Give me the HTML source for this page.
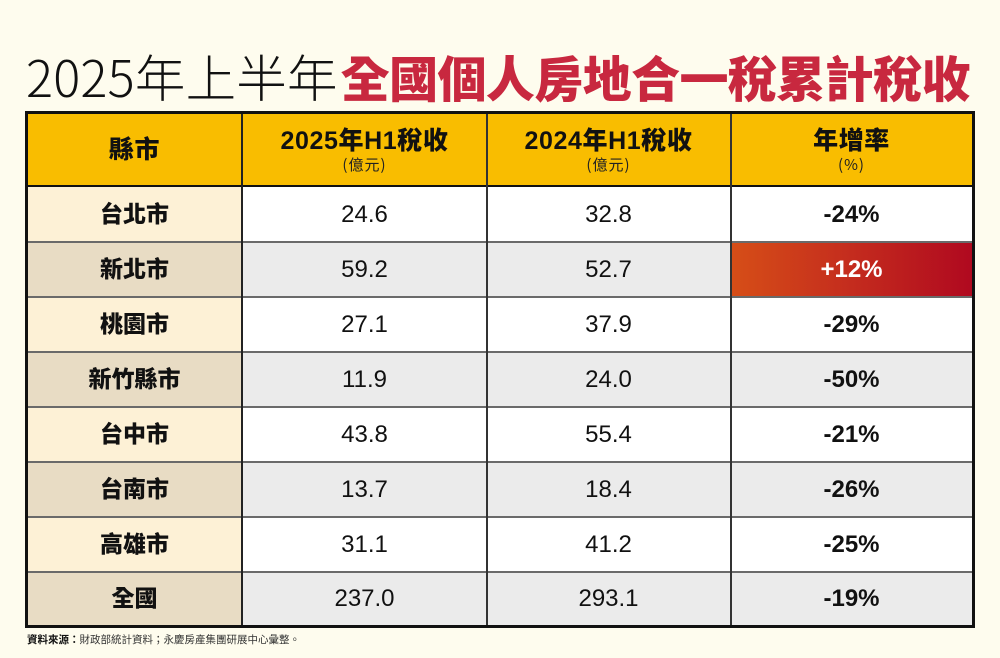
<!DOCTYPE html>
<html><head><meta charset="utf-8">
<style>
html,body{margin:0;padding:0;}
body{width:1000px;height:658px;background:#FEFCEE;position:relative;overflow:hidden;font-family:"Liberation Sans","Noto Sans CJK TC",sans-serif;}
.title{position:absolute;left:26px;top:45px;height:60px;line-height:60px;white-space:nowrap;font-size:49px;}
.title .blk{font-family:"Noto Sans CJK TC","Liberation Sans",sans-serif;font-weight:300;color:#111;font-size:50.5px;letter-spacing:0.2px;}
.title .red{font-family:"Noto Sans CJK TC","Liberation Sans",sans-serif;font-weight:900;color:#C8283F;letter-spacing:-0.6px;margin-left:3px;}
.tbl{position:absolute;left:25px;top:111px;width:950px;height:517px;border:3px solid #111;box-sizing:border-box;}
.c{position:absolute;display:flex;align-items:center;justify-content:center;flex-direction:column;color:#111;}
.hl{position:absolute;left:0;width:944px;height:1.5px;background:#6a6a6a;}
.vl{position:absolute;top:0;width:1.5px;height:511px;background:#333;}
.hd{background:#F9BD00;}
.hm{font-family:"Liberation Sans","Noto Sans CJK TC",sans-serif;font-weight:900;font-size:25px;letter-spacing:0.6px;line-height:28px;}
.hs{font-family:"Noto Sans CJK TC",sans-serif;font-size:15px;line-height:17px;letter-spacing:1px;margin-top:1px;color:#222;}
.nm{font-family:"Liberation Sans","Noto Sans CJK TC",sans-serif;font-weight:900;font-size:23px;}
.nm span{position:relative;top:-3px;}
.v{font-size:24px;}
.p{font-size:24px;font-weight:bold;}
.foot{position:absolute;left:27px;top:632px;font-size:10.5px;color:#333;font-family:"Noto Sans CJK TC","Liberation Sans",sans-serif;white-space:nowrap;}
.foot b{color:#111;}
</style></head><body>
<div class="title"><span class="blk">2025年上半年</span><span class="red">全國個人房地合一稅累計稅收</span></div>

<div class="tbl">
  <!-- header -->
  <div class="c hd" style="left:0;top:0;width:213px;height:71px;"><div class="hm">縣市</div></div>
  <div class="c hd" style="left:215px;top:0;width:243px;height:71px;"><div class="hm">2025年H1稅收</div><div class="hs">(億元)</div></div>
  <div class="c hd" style="left:459px;top:0;width:243px;height:71px;"><div class="hm">2024年H1稅收</div><div class="hs">(億元)</div></div>
  <div class="c hd" style="left:703px;top:0;width:241px;height:71px;"><div class="hm">年增率</div><div class="hs">(%)</div></div>
  <div style="position:absolute;left:0;top:71px;width:944px;height:2px;background:#111;"></div>

  <!-- row 1 -->
  <div class="c nm" style="left:0;top:73px;width:213px;height:55px;background:#FDF1D6;"><span>台北市</span></div>
  <div class="c v" style="left:215px;top:73px;width:243px;height:55px;background:#fff;">24.6</div>
  <div class="c v" style="left:459px;top:73px;width:243px;height:55px;background:#fff;">32.8</div>
  <div class="c p" style="left:703px;top:73px;width:241px;height:55px;background:#fff;">-24%</div>
  <!-- row 2 -->
  <div class="c nm" style="left:0;top:128px;width:213px;height:55px;background:#E8DCC4;"><span>新北市</span></div>
  <div class="c v" style="left:215px;top:128px;width:243px;height:55px;background:#EBEBEB;">59.2</div>
  <div class="c v" style="left:459px;top:128px;width:243px;height:55px;background:#EBEBEB;">52.7</div>
  <div class="c p" style="left:703px;top:128px;width:241px;height:55px;background:linear-gradient(to right,#D64E17,#C42C1E 50%,#B0091F);color:#fff;">+12%</div>
  <!-- row 3 -->
  <div class="c nm" style="left:0;top:183px;width:213px;height:55px;background:#FDF1D6;"><span>桃園市</span></div>
  <div class="c v" style="left:215px;top:183px;width:243px;height:55px;background:#fff;">27.1</div>
  <div class="c v" style="left:459px;top:183px;width:243px;height:55px;background:#fff;">37.9</div>
  <div class="c p" style="left:703px;top:183px;width:241px;height:55px;background:#fff;">-29%</div>
  <!-- row 4 -->
  <div class="c nm" style="left:0;top:238px;width:213px;height:55px;background:#E8DCC4;"><span>新竹縣市</span></div>
  <div class="c v" style="left:215px;top:238px;width:243px;height:55px;background:#EBEBEB;">11.9</div>
  <div class="c v" style="left:459px;top:238px;width:243px;height:55px;background:#EBEBEB;">24.0</div>
  <div class="c p" style="left:703px;top:238px;width:241px;height:55px;background:#EBEBEB;">-50%</div>
  <!-- row 5 -->
  <div class="c nm" style="left:0;top:293px;width:213px;height:55px;background:#FDF1D6;"><span>台中市</span></div>
  <div class="c v" style="left:215px;top:293px;width:243px;height:55px;background:#fff;">43.8</div>
  <div class="c v" style="left:459px;top:293px;width:243px;height:55px;background:#fff;">55.4</div>
  <div class="c p" style="left:703px;top:293px;width:241px;height:55px;background:#fff;">-21%</div>
  <!-- row 6 -->
  <div class="c nm" style="left:0;top:348px;width:213px;height:55px;background:#E8DCC4;"><span>台南市</span></div>
  <div class="c v" style="left:215px;top:348px;width:243px;height:55px;background:#EBEBEB;">13.7</div>
  <div class="c v" style="left:459px;top:348px;width:243px;height:55px;background:#EBEBEB;">18.4</div>
  <div class="c p" style="left:703px;top:348px;width:241px;height:55px;background:#EBEBEB;">-26%</div>
  <!-- row 7 -->
  <div class="c nm" style="left:0;top:403px;width:213px;height:55px;background:#FDF1D6;"><span>高雄市</span></div>
  <div class="c v" style="left:215px;top:403px;width:243px;height:55px;background:#fff;">31.1</div>
  <div class="c v" style="left:459px;top:403px;width:243px;height:55px;background:#fff;">41.2</div>
  <div class="c p" style="left:703px;top:403px;width:241px;height:55px;background:#fff;">-25%</div>
  <!-- row 8 -->
  <div class="c nm" style="left:0;top:458px;width:213px;height:53px;background:#E8DCC4;"><span>全國</span></div>
  <div class="c v" style="left:215px;top:458px;width:243px;height:53px;background:#EBEBEB;">237.0</div>
  <div class="c v" style="left:459px;top:458px;width:243px;height:53px;background:#EBEBEB;">293.1</div>
  <div class="c p" style="left:703px;top:458px;width:241px;height:53px;background:#EBEBEB;">-19%</div>

  <!-- horizontal lines -->
  <div class="hl" style="top:127px;"></div>
  <div class="hl" style="top:182px;"></div>
  <div class="hl" style="top:237px;"></div>
  <div class="hl" style="top:292px;"></div>
  <div class="hl" style="top:347px;"></div>
  <div class="hl" style="top:402px;"></div>
  <div class="hl" style="top:457px;"></div>
  <!-- vertical lines -->
  <div class="vl" style="left:213px;background:#222;"></div>
  <div class="vl" style="left:458px;"></div>
  <div class="vl" style="left:702px;"></div>
</div>

<div class="foot"><b>資料來源：</b>財政部統計資料；永慶房產集團研展中心彙整。</div>
</body></html>
